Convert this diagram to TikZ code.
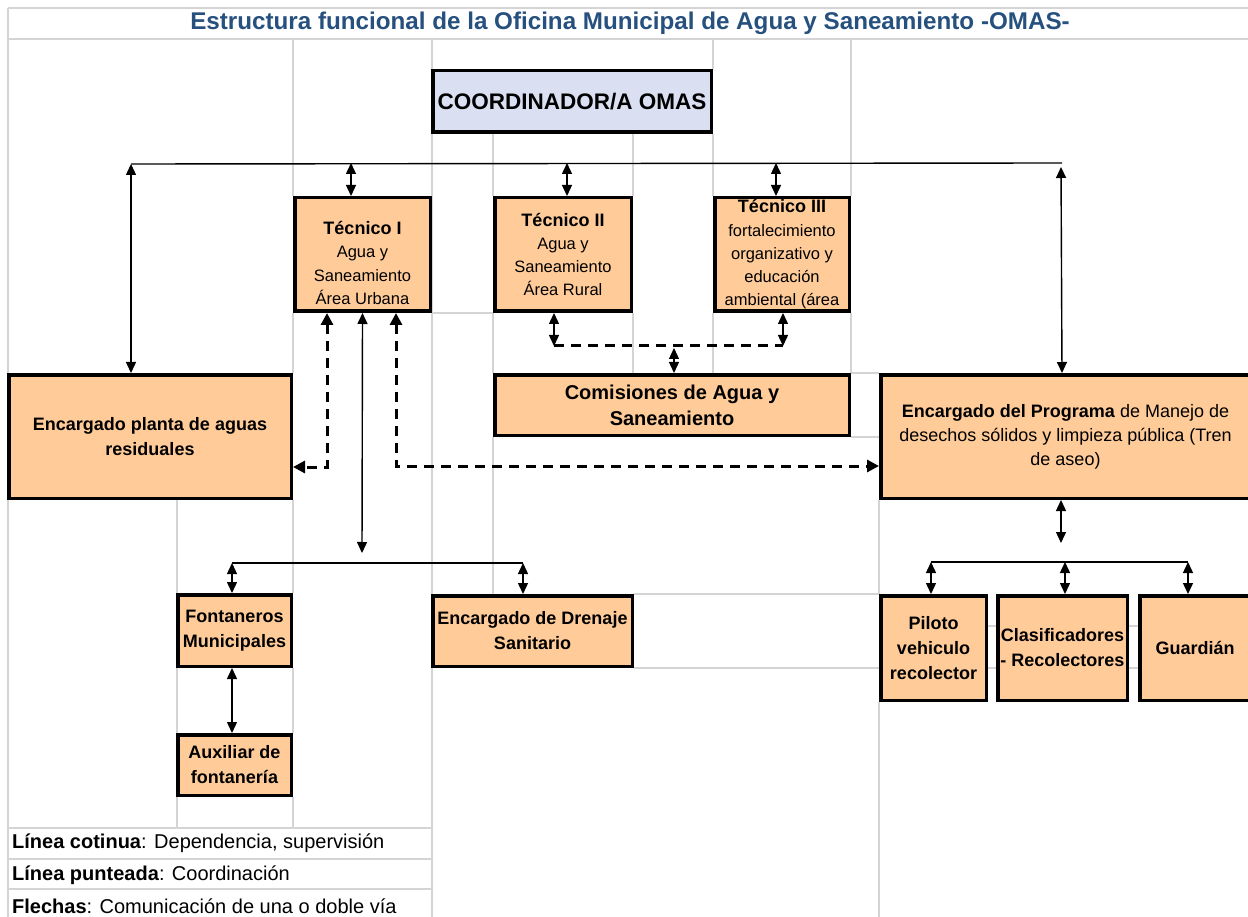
\documentclass[tikz,border=0pt]{standalone}
\usepackage{fontspec}
\setmainfont{Liberation Sans}
\usetikzlibrary{arrows.meta}
\definecolor{peach}{RGB}{255,204,153}
\definecolor{lavender}{RGB}{218,224,242}
\definecolor{titleblue}{RGB}{38,80,126}
\definecolor{gridgray}{RGB}{212,212,212}

\begin{document}
\begin{tikzpicture}[
    x=1pt, y=-1pt,
    box/.style={rectangle, draw, line width=3.5pt, fill=peach, align=center, inner sep=0pt, font=\fontsize{18}{25}\selectfont\bfseries},
    techbox/.style={box, font=\fontsize{16.5}{23.3}\selectfont},
    busline/.style={line width=1.4pt},
    arrow/.style={<->, >={Triangle[length=11pt,width=10pt]}, line width=1.4pt},
    dashline/.style={line width=3pt, dash pattern=on 10pt off 7pt},
    dasharrow/.style={<->, >={Triangle[length=12pt,width=12pt]}, line width=3pt, dash pattern=on 10pt off 7pt},
    gridline/.style={draw=gridgray, line width=2pt},
    legendtext/.style={anchor=west, inner sep=0pt, font=\fontsize{20}{24}\selectfont}
]
    \useasboundingbox (0,0) rectangle (1248,917);

    % Sheet grid
    \draw[gridline] (8,8) -- (1248,8) (8,39) -- (1248,39) (8,8) -- (8,917);
    \draw[gridline] (8,828) -- (432,828) (8,859) -- (432,859) (8,889) -- (432,889);
    \draw[gridline] (177,500) -- (177,593) (177,668) -- (177,733) (177,797) -- (177,828);
    \draw[gridline] (293,39) -- (293,196) (293,313) -- (293,373) (293,500) -- (293,593)
                    (293,668) -- (293,733) (293,797) -- (293,828);
    \draw[gridline] (432,39) -- (432,917);
    \draw[gridline] (493,134) -- (493,196) (493,313) -- (493,373) (493,437) -- (493,594);
    \draw[gridline] (633,134) -- (633,196) (633,313) -- (633,373);
    \draw[gridline] (713,39) -- (713,69) (713,134) -- (713,196) (713,313) -- (713,373);
    \draw[gridline] (851,39) -- (851,196) (851,313) -- (851,373);
    \draw[gridline] (879,500) -- (879,594) (879,702) -- (879,917);
    \draw[gridline] (432,313) -- (493,313) (851,373) -- (879,373) (851,437) -- (879,437);
    \draw[gridline] (634,594) -- (879,594) (634,668) -- (879,668);
    \draw[gridline] (988,626) -- (996,626) (1129,626) -- (1138,626)
                    (988,668) -- (996,668) (1129,668) -- (1138,668);

    % Title
    \node[font=\fontsize{24.2}{28}\selectfont\bfseries, text=titleblue] (title) at (630,23)
        {Estructura funcional de la Oficina Municipal de Agua y Saneamiento -OMAS-};

    % Coordination
    \node[box, fill=lavender, minimum width=278.5pt, minimum height=61.5pt, font=\fontsize{22.5}{26}\selectfont\bfseries] (coord) at (572,101.5) {COORDINADOR/A OMAS};

    % Technicians
    \node[techbox, minimum width=135.5pt, minimum height=113.5pt] (tec1) at (362.5,254.5)
        {\rule{0pt}{30pt}{\fontsize{18}{23.3}\selectfont\bfseries Técnico I}\\Agua y\\Saneamiento\\Área Urbana};
    \node[techbox, minimum width=136.5pt, minimum height=113.5pt] (tec2) at (563,254.5)
        {{\fontsize{18}{23.3}\selectfont\bfseries Técnico II}\\Agua y\\Saneamiento\\Área Rural};
    \node[techbox, minimum width=134.5pt, minimum height=113.5pt] (tec3) at (782,254.5)
        {{\fontsize{18}{23.3}\selectfont\bfseries Técnico III}\\fortalecimiento\\organizativo y\\educación\\ambiental (área};

    % Middle row
    \node[box, minimum width=282.5pt, minimum height=123.5pt] (planta) at (150,436.5) {Encargado planta de aguas\\residuales};
    \node[box, minimum width=354.5pt, minimum height=60.5pt, font=\fontsize{20}{26}\selectfont\bfseries] (comis) at (672,405) {Comisiones de Agua y\\Saneamiento};
    \node[box, minimum width=369.5pt, minimum height=123.5pt, font=\fontsize{18}{24}\selectfont] (prog) at (1065.5,436.5)
        {\textbf{Encargado del Programa} de Manejo de\\desechos sólidos y limpieza pública (Tren\\de aseo)};

    % Lower row
    \node[box, minimum width=113.5pt, minimum height=71.5pt] (font) at (234.5,630.5) {Fontaneros\\Municipales};
    \node[box, minimum width=113.5pt, minimum height=60.5pt] (aux) at (234.5,765) {Auxiliar de\\fontanería};
    \node[box, minimum width=199.5pt, minimum height=70.5pt] (dren) at (532.5,631) {Encargado de Drenaje\\Sanitario};
    \node[box, minimum width=105.5pt, minimum height=104.5pt] (pil) at (933.5,648) {Piloto\\vehiculo\\recolector};
    \node[box, minimum width=129.5pt, minimum height=104.5pt] (clas) at (1062.5,648) {Clasificadores\\- Recolectores};
    \node[box, minimum width=110.5pt, minimum height=104.5pt] (guard) at (1195,648) {Guardián};

    % Legend
    \node[legendtext] (leg1) at (12,843) {\textbf{Línea cotinua}: Dependencia, supervisión};
    \node[legendtext] (leg2) at (12,875) {\textbf{Línea punteada}: Coordinación};
    \node[legendtext] (leg3) at (12,906) {\textbf{Flechas}: Comunicación de una o doble vía};

    % Bus points
    \coordinate (topL) at (131,164);
    \coordinate (topR) at (1062,163);
    \coordinate (b1) at (351,163);
    \coordinate (b2) at (567,163);
    \coordinate (b3) at (776,163);
    \coordinate (dL) at (327,467);
    \coordinate (dR) at (396,466);
    \coordinate (mid) at (362,553);
    \coordinate (lbL) at (232,563);
    \coordinate (lbR) at (523,563);
    \coordinate (cL) at (554,346);
    \coordinate (cR) at (783,346);
    \coordinate (cM) at (674,348);
    \coordinate (pb) at (1061,543);
    \coordinate (rbL) at (931,562);
    \coordinate (rbM) at (1065,562);
    \coordinate (rbR) at (1188,562);

    % Arrows
    \draw[busline] (topL) -- (topR);
    \draw[arrow] (topL) -- (topL |- planta.north);
    \draw[arrow] (1061,167) -- (topR |- prog.north);
    \draw[arrow] (b1) -- (b1 |- tec1.north);
    \draw[arrow] (b2) -- (b2 |- tec2.north);
    \draw[arrow] (b3) -- (b3 |- tec3.north);

    \draw[dasharrow] (dL |- tec1.south) -- (dL) -- (dL -| planta.east);
    \draw[dasharrow] (dR |- tec1.south) -- (dR) -- (dR -| prog.west);
    \draw[arrow] (tec1.south) -- (mid);

    \draw[busline] (lbL) -- (lbR);
    \draw[arrow] (lbL) -- (lbL |- font.north);
    \draw[arrow] (lbR) -- (lbR |- dren.north);
    \draw[arrow] (font.south -| lbL) -- (aux.north -| lbL);

    \draw[dashline] (cL) -- (cR);
    \draw[arrow] (cL |- tec2.south) -- (cL);
    \draw[arrow] (cR |- tec3.south) -- (cR);
    \draw[arrow] (cM) -- (cM |- comis.north);

    \draw[arrow] (prog.south -| pb) -- (pb);
    \draw[busline] (rbL) -- (rbR);
    \draw[arrow] (rbL) -- (rbL |- pil.north);
    \draw[arrow] (rbM) -- (rbM |- clas.north);
    \draw[arrow] (rbR) -- (rbR |- guard.north);

\end{tikzpicture}
\end{document}
